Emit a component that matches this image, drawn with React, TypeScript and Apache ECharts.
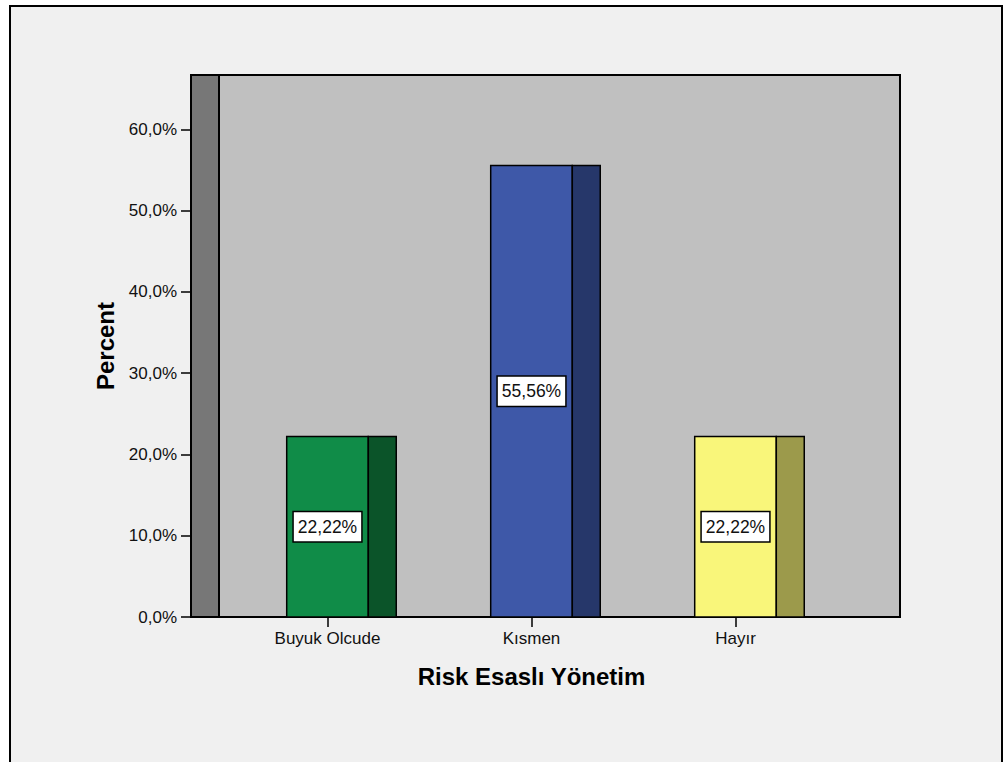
import React, { useEffect, useRef } from "react";
import * as echarts from "echarts";

const categories = ["Buyuk Olcude", "Kısmen", "Hayır"];
const percentValues = [22.22, 55.56, 22.22];
const frontColors = ["#108c48", "#3e58a8", "#f9f67a"];
const sideColors = ["#0b5429", "#26376a", "#9c9a4b"];
const yTickValues = [0, 10, 20, 30, 40, 50, 60];
const yMax = 66.7;

const FONT = "'Liberation Sans', Arial, sans-serif";

const fmtAxis = (v: number) => v.toFixed(1).replace(".", ",") + "%";
const fmtLabel = (v: number) => v.toFixed(2).replace(".", ",") + "%";

export default function App() {
  const ref = useRef<HTMLDivElement>(null);
  useEffect(() => {
    if (!ref.current) return;
    const chart = echarts.init(ref.current, null, { renderer: "svg" });
    const data = categories.map((c, i) => [i, percentValues[i]]);
    const option: any = {
      animation: false,
      backgroundColor: "#ffffff",
      graphic: [
        {
          type: "rect",
          z: -10,
          shape: { x: 10, y: 6, width: 992, height: 780 },
          style: { fill: "#f0f0f0", stroke: "#000", lineWidth: 2 },
        },
        {
          type: "rect",
          z: 5,
          shape: { x: 191, y: 75, width: 28, height: 542 },
          style: { fill: "#777777", stroke: "#000", lineWidth: 2 },
        },
      ],
      grid: [
        {
          left: 191,
          right: 105,
          top: 75,
          bottom: 145,
          show: true,
          backgroundColor: "#c0c0c0",
          borderColor: "#000",
          borderWidth: 2,
          containLabel: false,
          outerBoundsMode: "none",
        },
        {
          left: 225.5,
          right: 167.5,
          top: 75,
          bottom: 145,
          show: false,
          containLabel: false,
          outerBoundsMode: "none",
        },
      ],
      xAxis: [
        {
          gridIndex: 0,
          type: "value",
          min: 0,
          max: 1,
          show: false,
        },
        {
          gridIndex: 1,
          type: "category",
          data: categories,
          boundaryGap: true,
          axisLine: { show: false },
          axisTick: {
            show: true,
            alignWithLabel: true,
            length: 10,
            lineStyle: { color: "#000", width: 1.5 },
          },
          axisLabel: {
            margin: 13,
            fontSize: 17,
            fontFamily: FONT,
            color: "#111",
          },
          name: "Risk Esaslı Yönetim",
          nameLocation: "middle",
          nameGap: 47,
          nameTextStyle: {
            fontSize: 24,
            fontWeight: "bold",
            fontFamily: FONT,
            color: "#000",
          },
        },
      ],
      yAxis: [
        {
          gridIndex: 0,
          type: "value",
          min: 0,
          max: yMax,
          splitLine: { show: false },
          axisLine: { show: true, lineStyle: { color: "#000", width: 2 } },
          axisTick: {
            show: true,
            length: 10,
            customValues: yTickValues,
            lineStyle: { color: "#000", width: 1.5 },
          },
          axisLabel: {
            customValues: yTickValues,
            formatter: (v: number) => fmtAxis(v),
            margin: 14,
            fontSize: 17,
            fontFamily: FONT,
            color: "#111",
          },
          name: "Percent",
          nameLocation: "middle",
          nameGap: 70,
          nameTextStyle: {
            fontSize: 24,
            fontWeight: "bold",
            fontFamily: FONT,
            color: "#000",
          },
        },
        {
          gridIndex: 1,
          type: "value",
          min: 0,
          max: yMax,
          show: false,
        },
      ],
      series: [
        {
          type: "custom",
          xAxisIndex: 1,
          yAxisIndex: 1,
          z: 10,
          data,
          renderItem: (params: any, api: any) => {
            const idx = api.value(0);
            const v = api.value(1);
            const top = api.coord([idx, v]);
            const bot = api.coord([idx, 0]);
            const band = api.size([1, 0])[0];
            const fw = band * 0.4;
            const sw = band * 0.137;
            const x0 = top[0] - fw / 2;
            const h = bot[1] - top[1];
            const i = params.dataIndex;
            return {
              type: "group",
              children: [
                {
                  type: "rect",
                  shape: { x: x0, y: top[1], width: fw, height: h },
                  style: { fill: frontColors[i], stroke: "#000", lineWidth: 1.5 },
                },
                {
                  type: "rect",
                  shape: { x: x0 + fw, y: top[1], width: sw, height: h },
                  style: { fill: sideColors[i], stroke: "#000", lineWidth: 1.5 },
                },
                {
                  type: "text",
                  x: top[0],
                  y: top[1] + h / 2,
                  style: {
                    text: fmtLabel(v),
                    align: "center",
                    verticalAlign: "middle",
                    fontSize: 17.5,
                    fontFamily: FONT,
                    fill: "#111",
                    backgroundColor: "#ffffff",
                    borderColor: "#000",
                    borderWidth: 1.5,
                    padding: [6, 4, 5, 4],
                  },
                },
              ],
            };
          },
        },
      ],
    };
    chart.setOption(option);
    return () => chart.dispose();
  }, []);
  return (
    <div
      ref={ref}
      style={{ position: "absolute", left: 0, top: 0, width: 1005, height: 762 }}
    />
  );
}
